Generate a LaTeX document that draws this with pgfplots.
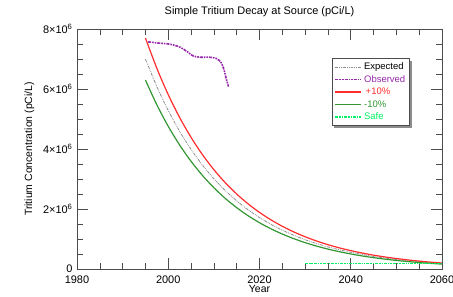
\documentclass[border=0pt]{standalone}
\usepackage{pgfplots}
\pgfplotsset{compat=1.18}
\usepackage{fontspec}
\setmainfont{Liberation Sans}
\usetikzlibrary{backgrounds}
\definecolor{expgray}{RGB}{140,140,140}
\definecolor{obspurple}{RGB}{150,40,170}
\definecolor{plusred}{RGB}{255,45,45}
\definecolor{minusgreen}{RGB}{50,150,50}
\definecolor{safegreen}{RGB}{0,240,100}
\begin{document}
\begin{tikzpicture}
\begin{axis}[
  scale only axis,
  width=365bp, height=240bp,
  xmin=1980, xmax=2060, ymin=0, ymax=8e6,
  xtick={1980,2000,2020,2040,2060},
  minor x tick num=3,
  ytick={0,2e6,4e6,6e6,8e6},
  yticklabels={0, 2×10\textsuperscript{6}, 4×10\textsuperscript{6}, 6×10\textsuperscript{6}, 8×10\textsuperscript{6}},
  minor y tick num=3,
  scaled y ticks=false,
  /pgf/number format/1000 sep={},
  /pgf/number format/assume math mode=true,
  tick align=inside,
  major tick length=11bp, minor tick length=6bp,
  every tick/.style={black!70, line width=0.6pt},
  axis line style={black!70, line width=0.6pt},
  tick label style={font=\fontsize{11}{13}\selectfont},
  xticklabel style={yshift=-3bp},
  yticklabel style={xshift=-1bp},
  title={Simple Tritium Decay at Source (pCi/L)},
  title style={font=\fontsize{11}{13}\selectfont, at={(0.5,1)}, anchor=south, yshift=6bp, inner sep=0pt},
  xlabel={Year},
  xlabel style={font=\fontsize{10.5}{12}\selectfont, yshift=5bp},
  ylabel={Tritium Concentration (pCi/L)},
  ylabel style={font=\fontsize{10.5}{12}\selectfont, yshift=2bp},
  legend cell align=left,
  legend style={name=leg, at={(0.912,0.879)}, anchor=north east, fill=white, draw=black!70,
    font=\fontsize{9.5}{11}\selectfont, row sep=0.3bp, inner sep=2.5bp},
  legend image code/.code={\draw[#1] (0bp,0bp) -- (26bp,0bp);},
]
\addplot[color=expgray, line width=0.8pt, densely dash dot dot, smooth] coordinates {
(1995,7.0000e6) (1997.5,6.0815e6) (2000,5.2835e6) (2002.5,4.5903e6) (2005,3.9880e6)
(2007.5,3.4647e6) (2010,3.0101e6) (2012.5,2.6151e6) (2015,2.2720e6) (2017.5,1.9739e6)
(2020,1.7149e6) (2022.5,1.4899e6) (2025,1.2944e6) (2027.5,1.1246e6) (2030,0.97702e6)
(2032.5,0.84883e6) (2035,0.73745e6) (2037.5,0.64069e6) (2040,0.55663e6) (2042.5,0.48359e6)
(2045,0.42014e6) (2047.5,0.36501e6) (2050,0.31712e6) (2052.5,0.27551e6) (2055,0.23936e6)
(2057.5,0.20795e6) (2060,0.18067e6)};
\addlegendentry{Expected}
\addplot[color=obspurple, line width=1.6pt, densely dash dot dot, smooth] coordinates {
(1995.6,7.57e6) (1998,7.53e6) (2000.5,7.49e6) (2002.5,7.40e6) (2004,7.26e6) (2005.5,7.10e6)
(2007,7.06e6) (2009,7.06e6) (2010.5,7.02e6) (2011.6,6.88e6) (2012.2,6.65e6) (2012.7,6.35e6) (2013.2,6.08e6)};
\addlegendentry{\textcolor{obspurple}{Observed}}
\addplot[color=plusred, line width=1.2pt, solid, smooth] coordinates {
(1995,7.7e6) (1997.5,6.6897e6) (2000,5.8119e6) (2002.5,5.0493e6) (2005,4.3868e6)
(2007.5,3.8112e6) (2010,3.3111e6) (2012.5,2.8766e6) (2015,2.4992e6) (2017.5,2.1713e6)
(2020,1.8864e6) (2022.5,1.6389e6) (2025,1.4238e6) (2027.5,1.2371e6) (2030,1.0747e6)
(2032.5,0.93372e6) (2035,0.81121e6) (2037.5,0.70477e6) (2040,0.61229e6) (2042.5,0.53196e6)
(2045,0.46217e6) (2047.5,0.40152e6) (2050,0.34883e6) (2052.5,0.30306e6) (2055,0.26330e6)
(2057.5,0.22876e6) (2060,0.19874e6)};
\addlegendentry{\textcolor{plusred}{\,+10\%}}
\addplot[color=minusgreen, line width=1.2pt, solid, smooth] coordinates {
(1995,6.3e6) (1997.5,5.4734e6) (2000,4.7552e6) (2002.5,4.1313e6) (2005,3.5892e6)
(2007.5,3.1182e6) (2010,2.7091e6) (2012.5,2.3536e6) (2015,2.0448e6) (2017.5,1.7765e6)
(2020,1.5434e6) (2022.5,1.3409e6) (2025,1.1650e6) (2027.5,1.0121e6) (2030,0.87934e6)
(2032.5,0.76396e6) (2035,0.66371e6) (2037.5,0.57663e6) (2040,0.50097e6) (2042.5,0.43524e6)
(2045,0.37814e6) (2047.5,0.32852e6) (2050,0.28541e6) (2052.5,0.24796e6) (2055,0.21542e6)
(2057.5,0.18716e6) (2060,0.16260e6)};
\addlegendentry{\textcolor{minusgreen}{-10\%}}
\addplot[color=safegreen, line width=1.4pt, densely dash dot dot] coordinates {
(2030,0.18e6) (2060,0.18e6)};
\addlegendentry{\textcolor{safegreen}{Safe}}
\coordinate (O) at (rel axis cs:0,0);
\end{axis}
\begin{scope}[on background layer]
\fill[black!45] ([xshift=2.5bp,yshift=-2.5bp]leg.south west) rectangle ([xshift=2.5bp,yshift=-2.5bp]leg.north east);
\end{scope}
\pgfresetboundingbox
\path[use as bounding box] (O) ++(-77bp,-28bp) rectangle ++(453bp,297bp);
\end{tikzpicture}
\end{document}
